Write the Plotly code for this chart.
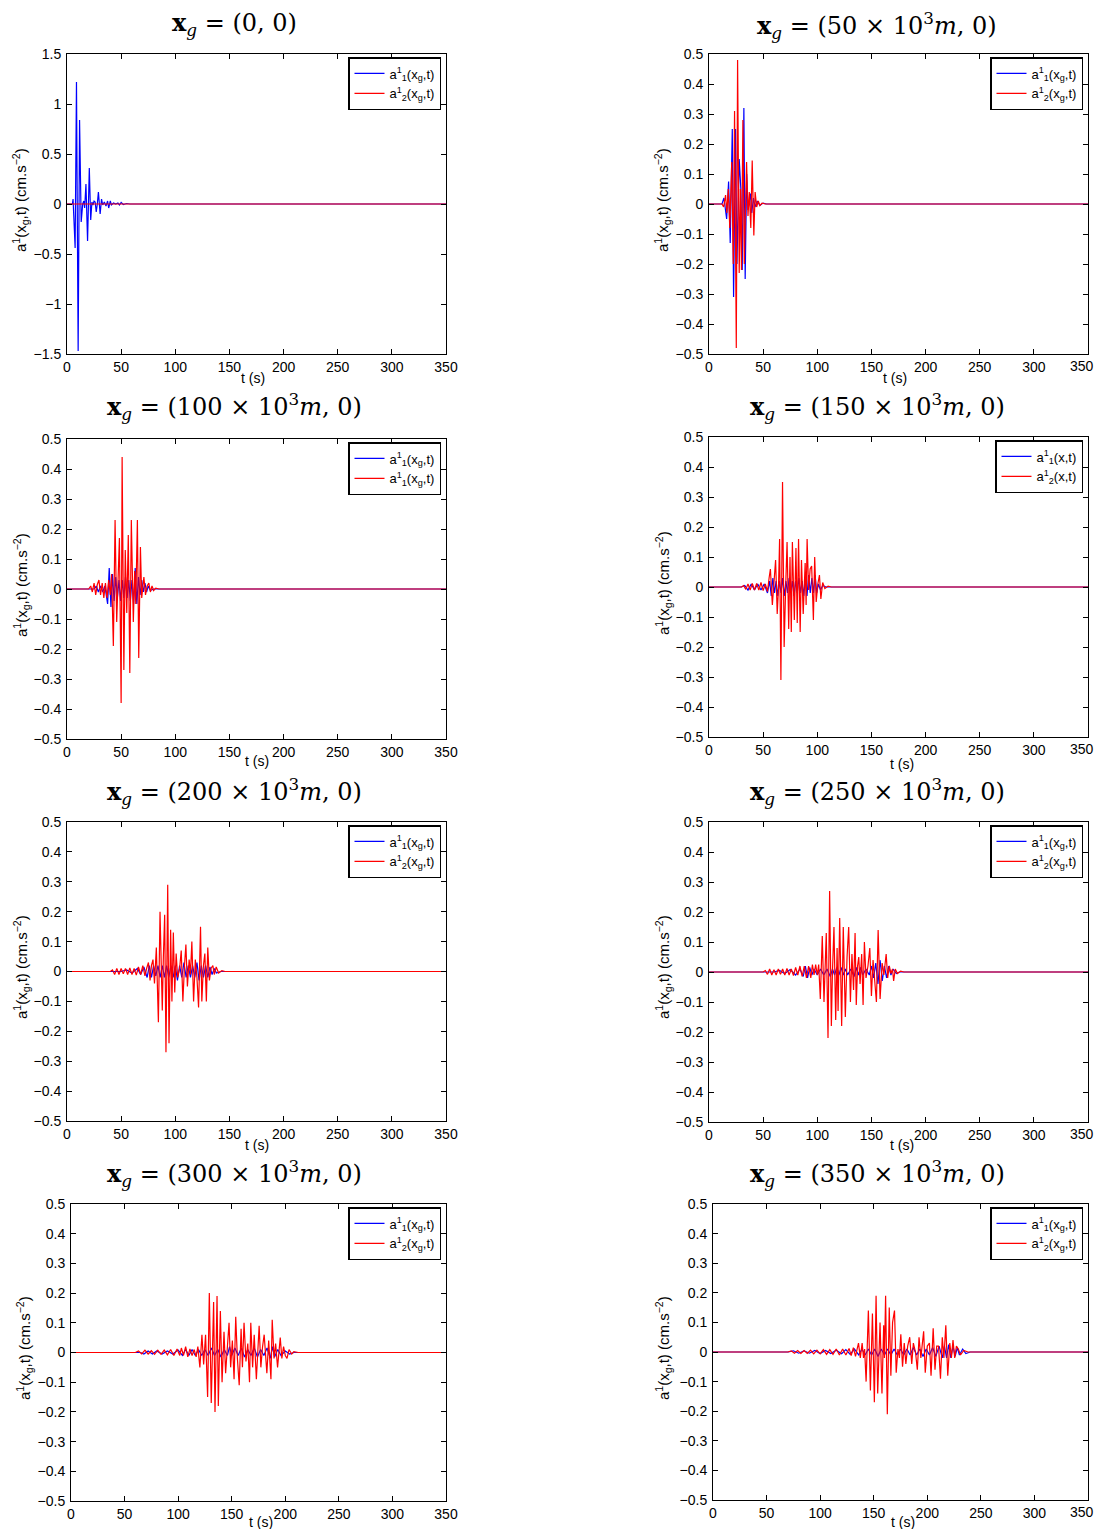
import plotly.graph_objects as go

# the page puts the figure at the browser's 8px body margin
PAGE_W, PAGE_H, OFF = 1103, 1537, 8
W, H = PAGE_W - OFF, PAGE_H - 2 * OFF

# ---------------- data: (t [s], acceleration [cm.s^-2]) ----------------
p1_blue = [(0,0),(5,0),(5.6,0.05),(7.5,-0.44),(8.75,1.22),(10.3,-1.47),(11.6,0.84),(13.1,-0.18),(14.5,0.0),(15.5,0.03),(16.3,-0.04),(17.5,0.2),(19,-0.37),(20.6,0.36),(21.9,-0.16),(23,0.02),(24,-0.01),(25,0.03),(26,0.02),(27,-0.08),(28,0.0),(29,0.12),(30.6,-0.1),(31.9,0.05),(33,-0.01),(34.5,0.02),(36,-0.02),(37.5,0.03),(38.5,-0.04),(40,0.03),(41,-0.01),(43,0.01),(45,0.0),(47,0.01),(48.5,-0.01),(50,0.015),(52,-0.005),(55,0.005),(58,0.0),(60,0.003),(62,0),(350,0)]
p1_red = [(0,0),(350,0)]

p2_blue = [(0,0),(12,0),(13.8,0.02),(16.3,-0.05),(18.1,0.075),(19.6,-0.13),(21.5,0.25),(22.7,-0.31),(24.5,0.25),(25.8,-0.2),(27.9,0.15),(29.4,0.05),(30.7,-0.22),(32.2,0.32),(33.4,-0.25),(34.8,0.1),(36,-0.02),(37,0.01),(38.3,0.035),(39.5,-0.03),(41,0.02),(42.5,-0.01),(44.5,0.01),(47,-0.005),(50,0.003),(53,0),(350,0)]
p2_red = [(0,0),(12,0),(13.5,-0.01),(15.3,0.03),(16.5,-0.03),(17.8,0.05),(19.2,-0.08),(21.0,0.14),(22.4,-0.2),(23.6,0.31),(25.2,-0.48),(26.4,0.48),(27.9,-0.23),(29.0,0.05),(30.0,-0.22),(31.3,0.28),(32.6,-0.2),(33.5,0.0),(34.7,0.14),(36.0,-0.04),(37.2,0.04),(38.6,-0.08),(39.9,0.145),(41.4,-0.105),(42.6,0.04),(44,-0.01),(45.5,0.01),(47,-0.005),(49,0.003),(52,0),(350,0)]

p3_blue = [(0,0),(25,0),(27,0.01),(29,-0.01),(31,0.01),(33,-0.01),(35,0.01),(37.5,-0.05),(39,0.07),(40.6,-0.06),(42,0.05),(43.5,-0.04),(45,0.04),(46.5,-0.03),(48,0.03),(49.5,-0.04),(51,0.03),(52.5,-0.03),(54,0.04),(55.5,-0.03),(57,0.03),(58.5,-0.04),(60,0.03),(61.5,-0.05),(63,0.07),(64.5,-0.05),(66,0.04),(67.5,-0.02),(69,0.03),(70.5,-0.01),(72,0.02),(73.5,-0.01),(75,0.01),(77,-0.005),(80,0),(350,0)]
p3_red = [(0,0),(20,0),(21.9,0.01),(23.4,-0.01),(25,0.02),(26.5,-0.02),(28,0.015),(29.5,0.03),(31,-0.02),(32.5,0.02),(34,-0.03),(35.5,0.02),(37,-0.03),(38.5,0.03),(40,-0.02),(41.2,0.05),(42.8,-0.19),(44.4,0.23),(45.9,-0.11),(47.0,0.02),(48.4,0.17),(50,-0.38),(50.9,0.44),(52.5,-0.27),(53.8,0.13),(55.2,-0.08),(56.6,0.18),(58,-0.28),(59.4,0.23),(61.25,-0.11),(62.5,0.06),(63.5,-0.05),(65,0.23),(66.25,-0.23),(67.8,0.14),(69,-0.03),(70,0.02),(71,0.04),(72.5,-0.02),(74,0.01),(75.6,0.02),(77,-0.01),(78.5,0.01),(80,-0.005),(82,0.003),(85,0),(350,0)]

p4_blue = [(0,0),(30,0),(33,0.005),(36,-0.01),(39,0.01),(42,-0.01),(45,0.01),(48,-0.01),(51,0.01),(54,-0.02),(56,0.02),(57.5,-0.03),(59,0.03),(60.5,-0.02),(62,0.02),(63.5,-0.03),(65,0.02),(66.5,-0.02),(68,0.03),(69.5,-0.03),(71,0.02),(72.5,-0.02),(74,0.03),(75.5,-0.02),(77,0.02),(78.5,-0.03),(80,0.02),(81.5,-0.02),(83,0.03),(84.5,-0.02),(86,0.02),(87.5,-0.03),(89,0.03),(90.5,-0.03),(92,0.04),(93.5,-0.02),(95,0.03),(96.5,-0.02),(98,0.04),(99.5,-0.02),(101,0.01),(103,-0.01),(105,0.005),(108,0),(350,0)]
p4_red = [(0,0),(30,0),(32,0.005),(34,-0.008),(36,0.01),(38,-0.01),(40,0.012),(42,-0.01),(44,0.012),(46,-0.01),(48,0.015),(50,-0.012),(52,0.01),(54,-0.015),(55.5,0.03),(56.7,0.06),(58.5,-0.06),(60,0.02),(61.5,0.09),(63,-0.09),(64.2,0.0),(65.2,0.16),(66.4,-0.31),(67.9,0.35),(69.4,-0.2),(70.8,0.0),(72.1,0.15),(73.6,-0.14),(74.8,0.1),(76,-0.15),(77,0.15),(78.8,-0.11),(80.3,0.13),(81.5,-0.12),(82.7,0.16),(84.2,-0.15),(85.4,0.09),(87,-0.09),(88.8,0.08),(89.7,-0.06),(90.6,0.16),(92,-0.01),(93.4,0.06),(94.8,0.07),(96.4,-0.11),(97.6,0.1),(99,-0.05),(100.5,0.01),(102,0.04),(103.3,-0.04),(105,0.015),(107,-0.005),(110,0.003),(113,0),(350,0)]

p5_blue = [(0,0),(50,0),(55,0.005),(60,-0.005),(65,0.01),(68,-0.01),(71,0.015),(74,-0.02),(76,0.02),(78,-0.02),(80,0.02),(82,-0.015),(84,0.02),(86,-0.02),(88,0.02),(90,-0.02),(92,0.02),(94,-0.02),(96,0.02),(98,-0.02),(100,0.02),(102,-0.03),(104,0.02),(106,-0.02),(108,0.03),(110,-0.02),(112,0.02),(114,-0.02),(116,0.02),(118,-0.02),(120,0.03),(122,-0.03),(124,0.02),(126,-0.02),(128,0.02),(130,-0.02),(132,0.015),(134,-0.01),(136,0.01),(138,-0.005),(142,0),(350,0)]
p5_red = [(0,0),(40,0),(42,0.005),(44,-0.01),(46,0.01),(48,-0.01),(50,0.01),(52,-0.008),(54,0.01),(56,-0.01),(58,0.012),(60,-0.01),(62,0.01),(64,-0.012),(66,0.015),(68,-0.01),(70,0.02),(72,-0.015),(73.5,0.01),(75.2,0.03),(76.7,-0.03),(78,0.02),(79.4,0.04),(80.8,-0.04),(82.5,0.08),(84.4,-0.17),(85.9,0.2),(87,-0.02),(88,-0.13),(89,0.05),(90.2,0.19),(91.4,-0.27),(93,0.29),(94.2,-0.24),(95.7,0.14),(96.9,-0.1),(98.2,0.13),(99.5,-0.07),(100.8,0.06),(102.2,-0.02),(104,0.01),(105.5,0.07),(107,-0.1),(108.5,0.02),(109.8,0.09),(111.2,-0.05),(112.8,0.04),(114,-0.01),(115.3,0.1),(116.9,-0.1),(118.5,0.04),(120,-0.02),(121.5,-0.12),(123.3,0.15),(124.5,-0.1),(126,0.02),(127.3,0.06),(128.7,-0.1),(130,0.08),(131.5,-0.03),(133,0.01),(134.7,0.02),(136,-0.01),(137.8,0.015),(140,-0.005),(143,0.003),(146,0),(350,0)]

p6_blue = [(0,0),(60,0),(65,0.005),(70,-0.005),(75,0.008),(80,-0.01),(84,0.01),(87,-0.015),(89,0.02),(91,-0.02),(93,0.015),(95,-0.01),(97,0.01),(100,-0.01),(103,0.01),(106,-0.01),(109,0.01),(112,-0.015),(114,0.01),(116,-0.01),(118,0.015),(120,-0.01),(122,0.015),(124,-0.01),(126,0.01),(128,-0.01),(131,0.01),(134,-0.015),(136,0.015),(138,-0.01),(140,0.015),(142,-0.01),(145,0.01),(148,-0.01),(150,0.02),(152,-0.02),(154,0.03),(156,-0.04),(158,0.04),(160,-0.03),(162,0.02),(164,-0.02),(166,0.02),(168,-0.01),(170,0.01),(173,-0.005),(176,0),(350,0)]
p6_red = [(0,0),(50,0),(52,0.005),(54,-0.008),(56,0.01),(58,-0.01),(60,0.008),(62,-0.01),(64,0.01),(66,-0.008),(68,0.01),(70,-0.01),(72,0.012),(74,-0.01),(76,0.01),(78,-0.012),(80,0.015),(82,-0.01),(84,0.02),(86,-0.015),(88,0.02),(90,-0.02),(92,0.02),(94,-0.02),(95.5,0.025),(97,-0.01),(98.5,0.025),(100,-0.01),(101.3,0.025),(102.8,-0.09),(104.6,0.12),(106.2,-0.1),(108.3,0.13),(109.9,-0.22),(111.4,0.27),(113,-0.18),(114,0.0),(115.4,0.15),(117,-0.16),(118.3,0.08),(119.2,-0.13),(120.7,0.18),(122.5,-0.18),(124,0.15),(125.9,-0.15),(127.5,0.05),(129,0.15),(130.6,-0.1),(132,0.06),(133.5,-0.06),(134.9,0.13),(136,-0.11),(137.2,0.02),(138.3,0.05),(139.5,-0.04),(141,0.06),(142.3,-0.11),(143.5,0.1),(145,-0.02),(146.8,0.02),(148.5,0.08),(150,-0.08),(151.5,0.04),(153,-0.02),(154.6,-0.1),(156.2,0.14),(158,-0.09),(159.9,0.03),(161.5,-0.01),(163.6,0.06),(165,-0.02),(166.5,0.02),(168,-0.005),(169.5,0.01),(170.5,-0.03),(172,0.01),(174,-0.005),(177,0.003),(180,0),(350,0)]

p7_blue = [(0,0),(65,0),(68,-0.005),(72,0.005),(76,-0.005),(80,0.005),(85,-0.005),(90,0.005),(95,-0.005),(100,0.008),(104,-0.01),(107,0.01),(110,-0.01),(113,0.01),(116,-0.01),(119,0.01),(122,-0.01),(125,0.01),(128,-0.01),(131,0.015),(134,-0.01),(137,0.01),(140,-0.015),(143,0.01),(146,-0.01),(148,0.02),(150,-0.01),(153,0.015),(156,-0.01),(159,0.015),(162,-0.015),(165,0.01),(168,-0.01),(171,0.015),(174,-0.015),(177,0.01),(180,-0.01),(183,0.015),(186,-0.02),(188,0.02),(190,-0.015),(193,0.01),(196,-0.01),(200,0.005),(204,-0.005),(208,0),(350,0)]
p7_red = [(0,0),(60,0),(63,0.005),(66,-0.005),(69,0.008),(72,-0.005),(75,0.006),(78,-0.006),(81,0.008),(84,-0.006),(87,0.008),(90,-0.008),(93,0.01),(96,-0.01),(99,0.012),(101.5,-0.01),(103,0.015),(105,-0.01),(107,0.02),(109,-0.015),(111,0.012),(113,-0.01),(115,0.01),(116.8,-0.015),(118.4,0.02),(120.3,-0.05),(122.2,0.06),(123.8,-0.04),(125.6,0.06),(127.5,-0.15),(129.1,0.2),(130.9,-0.17),(133.1,0.17),(134.4,-0.2),(136.3,0.19),(137.5,-0.18),(139.4,0.14),(141,-0.1),(142.8,0.07),(144.3,-0.07),(145.8,0.01),(147.5,0.1),(149,-0.05),(150.6,0.04),(152.2,-0.09),(153.75,0.12),(155.3,-0.02),(157,-0.11),(158.75,0.08),(160,-0.05),(161.5,0.1),(163.3,-0.03),(165,0.03),(166.6,-0.1),(167.8,0.1),(169.5,-0.05),(171,0.06),(173,-0.09),(175.6,0.09),(177.2,-0.05),(178.8,0.02),(180.3,0.06),(182.8,-0.07),(184.5,0.04),(186.6,-0.09),(187.8,0.11),(189.5,-0.02),(191,0.03),(192.8,-0.05),(195.3,0.05),(196.8,-0.02),(198.4,0.02),(200,-0.01),(201.6,-0.02),(203.5,0.01),(206,-0.005),(208,0.003),(212,0),(350,0)]

p8_blue = [(0,0),(70,0),(75,0.004),(80,-0.004),(85,0.004),(90,-0.004),(95,0.005),(100,-0.005),(105,0.005),(110,-0.005),(115,0.006),(120,-0.006),(124,0.008),(128,-0.008),(132,0.01),(136,-0.01),(139,0.01),(142,-0.01),(145,0.01),(148,-0.01),(151,0.01),(154,-0.015),(157,0.01),(160,-0.01),(163,0.01),(166,-0.01),(169,0.01),(172,-0.01),(175,0.01),(178,-0.01),(181,0.01),(184,-0.01),(187,0.015),(190,-0.01),(193,0.01),(196,-0.015),(199,0.01),(202,-0.01),(205,0.015),(208,-0.015),(211,0.02),(214,-0.02),(216,0.02),(218,-0.02),(220,0.025),(222,-0.02),(224,0.02),(226,-0.015),(228,0.015),(230,-0.01),(233,0.01),(236,-0.005),(240,0),(350,0)]
p8_red = [(0,0),(70,0),(73,0.004),(76,-0.004),(79,0.005),(82,-0.005),(85,0.005),(88,-0.005),(91,0.006),(94,-0.006),(97,0.006),(100,-0.006),(103,0.008),(106,-0.008),(109,0.008),(112,-0.008),(115,0.01),(118,-0.01),(121,0.01),(124,-0.01),(127,0.012),(129,-0.012),(131,0.015),(133,-0.015),(134.5,0.01),(135.8,0.03),(137.5,-0.02),(139.2,0.03),(140.5,-0.02),(141.5,0.01),(142.9,-0.1),(145,0.14),(146.9,-0.13),(148.8,0.13),(150.6,-0.17),(152.2,0.19),(153.7,-0.14),(155.9,0.1),(157.7,-0.14),(159.3,0.09),(160,-0.02),(161.1,0.19),(162.7,-0.21),(164.5,0.15),(166,-0.08),(167.6,0.1),(169.4,0.14),(171,-0.07),(172.6,0.01),(174,-0.02),(175.3,0.06),(176.9,-0.05),(178.5,0.03),(180,-0.04),(181.7,0.02),(183.6,0.05),(185.5,-0.04),(187,0.03),(189,0.0),(190.7,-0.06),(192.3,0.05),(194,-0.02),(196.6,0.07),(198.1,-0.07),(200,0.02),(202,0.03),(203.5,-0.08),(205.5,0.08),(207.2,-0.06),(208.8,0.02),(210.5,0.02),(212.3,-0.09),(214,0.05),(215.5,-0.02),(217.3,0.09),(219.1,-0.08),(221,0.03),(222.5,-0.02),(224,0.04),(225.6,-0.02),(227.2,0.02),(229,0.01),(231,-0.01),(234,0.005),(238,0),(350,0)]

blue_series = [p1_blue, p2_blue, p3_blue, p4_blue, p5_blue, p6_blue, p7_blue, p8_blue]
red_series = [p1_red, p2_red, p3_red, p4_red, p5_red, p6_red, p7_red, p8_red]

titles = [
    "<b>x</b><sub><i>g</i></sub> = (0, 0)",
    "<b>x</b><sub><i>g</i></sub> = (50 × 10<sup>3</sup><i>m</i>, 0)",
    "<b>x</b><sub><i>g</i></sub> = (100 × 10<sup>3</sup><i>m</i>, 0)",
    "<b>x</b><sub><i>g</i></sub> = (150 × 10<sup>3</sup><i>m</i>, 0)",
    "<b>x</b><sub><i>g</i></sub> = (200 × 10<sup>3</sup><i>m</i>, 0)",
    "<b>x</b><sub><i>g</i></sub> = (250 × 10<sup>3</sup><i>m</i>, 0)",
    "<b>x</b><sub><i>g</i></sub> = (300 × 10<sup>3</sup><i>m</i>, 0)",
    "<b>x</b><sub><i>g</i></sub> = (350 × 10<sup>3</sup><i>m</i>, 0)",
]
leg_blue = ["a<sup>1</sup><sub>1</sub>(x<sub>g</sub>,t)"] * 8
leg_red = ["a<sup>1</sup><sub>2</sub>(x<sub>g</sub>,t)"] * 8
leg_red[2] = "a<sup>1</sup><sub>1</sub>(x<sub>g</sub>,t)"
leg_blue[3] = "a<sup>1</sup><sub>1</sub>(x,t)"
leg_red[3] = "a<sup>1</sup><sub>2</sub>(x,t)"

y_limits = [1.5, 0.5, 0.5, 0.5, 0.5, 0.5, 0.5, 0.5]
x_ticks = [0, 50, 100, 150, 200, 250, 300, 350]
y_ticks_big = [-1.5, -1, -0.5, 0, 0.5, 1, 1.5]
y_ticks_small = [-0.5, -0.4, -0.3, -0.2, -0.1, 0, 0.1, 0.2, 0.3, 0.4, 0.5]

# ---------------- layout geometry (page pixels) ----------------
boxes = [  # left, right, top, bottom
    (67, 446, 54, 354), (709, 1088, 54, 354),
    (67, 446, 439, 739), (709, 1088, 437, 737),
    (67, 446, 822, 1121), (709, 1088, 822, 1122),
    (71, 446, 1204, 1501), (713, 1088, 1204, 1500),
]
title_pos = [(234, 24), (877, 25), (234, 406), (877, 406), (234, 791), (877, 791), (234, 1173), (877, 1173)]
xlab_pos = [(253, 378), (895, 378), (257, 761), (902, 764), (257, 1145), (902, 1145), (261, 1522), (903, 1522)]
ylab_pos = [(21, 200), (663, 200), (21, 585), (663, 583), (21, 967), (663, 967), (24, 1348), (663, 1348)]
RIGHT_EDGE = 1096  # last tick label of the right column drawn right-aligned here


def px(x):
    return (x - OFF) / W


def py(y):
    return 1 - (y - OFF) / H


FONT = "Liberation Sans, Arial, sans-serif"
SERIF = "DejaVu Serif, Liberation Serif, serif"
fig = go.Figure()
layout = dict(width=W, height=H, margin=dict(l=0, r=0, t=0, b=0, pad=0, autoexpand=False), autosize=False,
              paper_bgcolor="white", plot_bgcolor="white", showlegend=True,
              font=dict(family=FONT, size=14, color="black"))
annotations = []

for i in range(8):
    k = "" if i == 0 else str(i + 1)
    l, r, t, b = boxes[i]
    lim = y_limits[i]
    yt = y_ticks_big if i == 0 else y_ticks_small
    right_col = (i % 2 == 1)
    xtext = [str(v) for v in x_ticks]
    if right_col:
        xtext[-1] = ""
    common = dict(showline=True, linecolor="black", linewidth=1, mirror="allticks",
                  ticks="inside", ticklen=5, tickcolor="black", showgrid=False,
                  zeroline=False, automargin=False, ticklabeloverflow="allow",
                  tickfont=dict(family=FONT, size=14, color="black"))
    layout["xaxis" + k] = dict(domain=[px(l), px(r)], range=[0, 350], tickvals=x_ticks,
                               ticktext=xtext, anchor="y" + k, **common)
    layout["yaxis" + k] = dict(domain=[py(b), py(t)], range=[-lim, lim], tickvals=yt,
                               ticktext=[("%g" % v).replace("-", "−") for v in yt],
                               anchor="x" + k, ticklabelstandoff=2, **common)
    leg = "legend" + k
    bt = [p[0] for p in blue_series[i]]
    bv = [p[1] for p in blue_series[i]]
    rt = [p[0] for p in red_series[i]]
    rv = [p[1] for p in red_series[i]]
    fig.add_trace(go.Scatter(x=bt, y=bv, mode="lines", line=dict(color="#0000ff", width=1.2),
                             name=leg_blue[i], xaxis="x" + k, yaxis="y" + k, legend=leg))
    fig.add_trace(go.Scatter(x=rt, y=rv, mode="lines", line=dict(color="#ff0000", width=1.2),
                             name=leg_red[i], xaxis="x" + k, yaxis="y" + k, legend=leg))
    layout[leg] = dict(x=px(r - 5), y=py(t + 3), xanchor="right", yanchor="top",
                       bordercolor="black", borderwidth=1.5, bgcolor="white",
                       font=dict(family=FONT, size=13, color="black"),
                       itemwidth=30, tracegroupgap=0, traceorder="normal")
    if right_col:
        annotations.append(dict(text=str(x_ticks[-1]), x=px(RIGHT_EDGE), y=py(b + 2),
                                xref="paper", yref="paper", showarrow=False,
                                xanchor="right", yanchor="top",
                                font=dict(family=FONT, size=14, color="black")))
    tx, ty = title_pos[i]
    annotations.append(dict(text=titles[i], x=px(tx), y=py(ty), xref="paper", yref="paper",
                            showarrow=False, xanchor="center", yanchor="middle",
                            font=dict(family=SERIF, size=24, color="black")))
    lx, ly = xlab_pos[i]
    annotations.append(dict(text="t (s)", x=px(lx), y=py(ly), xref="paper", yref="paper",
                            showarrow=False, xanchor="center", yanchor="middle",
                            font=dict(family=FONT, size=14, color="black")))
    yx, yy = ylab_pos[i]
    annotations.append(dict(text="a<sup>1</sup>(x<sub>g</sub>,t) (cm.s<sup>−2</sup>)", x=px(yx), y=py(yy),
                            xref="paper", yref="paper", showarrow=False, textangle=-90,
                            xanchor="center", yanchor="middle",
                            font=dict(family=FONT, size=15, color="black")))

layout["annotations"] = annotations
fig.update_layout(**layout)
fig.write_html("out.html")
